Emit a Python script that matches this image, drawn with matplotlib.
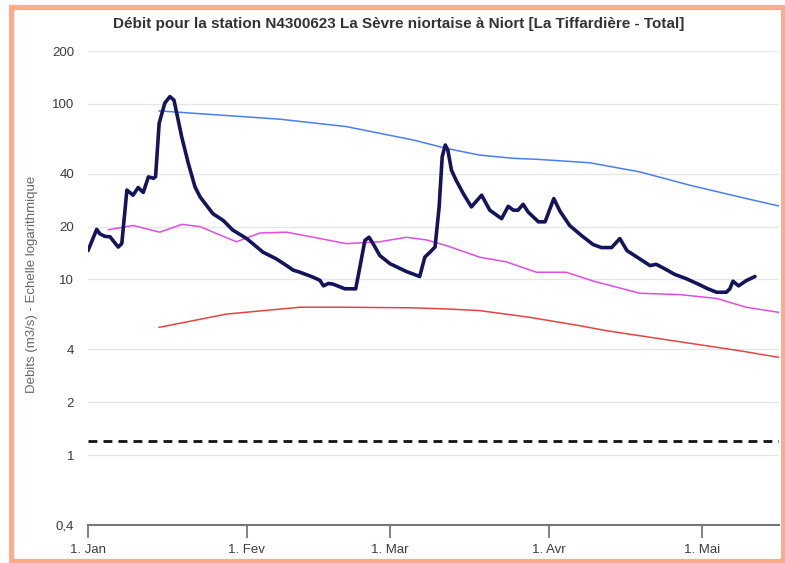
import matplotlib
matplotlib.use("Agg")
import matplotlib.pyplot as plt
import matplotlib.dates as mdates
from matplotlib.patches import Rectangle
from datetime import datetime
import numpy as np

plt.rcParams['font.family'] = ['Liberation Sans', 'DejaVu Sans']

# day offsets counted from 1 January
start = datetime(2023, 1, 1)

# observed daily flow (m3/s)
obs_days = [0, 1.7, 2.3, 3.3, 4.3, 5.9, 6.6,
            7.6, 8.8, 9.8, 10.8, 11.8, 12.8, 13.2,
            13.9, 15, 16, 16.8, 18.3, 19.6, 20.9, 21.9,
            24.4, 26.4, 28.3, 31, 34.2, 36.8, 38.8, 40.1, 41.4,
            44, 45.3, 46, 47, 47.9, 50.2, 52.3,
            53.1, 54.1, 54.9, 55.7, 57, 59, 62.2, 64.8,
            65.8, 66.8, 67.8, 68.6, 69.2, 69.8, 70.3, 71, 71.9, 73.3, 74.9,
            76.9, 78.5, 80.8, 82.1, 83.1, 84, 85, 86, 88, 89.3,
            91, 92.2, 94.1, 96.4, 98.7, 100.3, 102.3, 103.9, 105.3, 107.8,
            109.8, 111, 112.7, 114.6, 116.9, 119.5, 121.1, 122.8, 124.7, 125.4,
            126, 127.1, 128.6, 130.3]
obs_flow = [14.6, 19.3, 18.2, 17.6, 17.5, 15.3, 16.0,
            32.3, 30.2, 33.4, 31.3, 38.4, 37.7, 38.5,
            77.6, 101, 110, 105, 65, 45.8, 33.7, 29.5,
            23.7, 21.7, 19.1, 17.1, 14.3, 13.1, 12.0, 11.3, 11.0,
            10.3, 9.9, 9.2, 9.5, 9.4, 8.85, 8.85,
            11.7, 16.7, 17.4, 16.0, 13.7, 12.3, 11.1, 10.4,
            13.4, 14.3, 15.3, 25.9, 50, 58.3, 54.6, 42, 36.8, 30.9, 25.9,
            30.2, 24.8, 22.2, 26.1, 24.8, 24.8, 26.8, 24.2, 21.3, 21.3,
            28.9, 24.5, 20.3, 17.8, 15.8, 15.2, 15.2, 17.1, 14.6, 13.1,
            12.0, 12.2, 11.5, 10.7, 10.1, 9.33, 8.85, 8.46, 8.46, 8.85,
            9.78, 9.2, 9.85, 10.4]

# high reference curve
high_days = [13.9, 37.5, 50.5, 63.5, 70, 76.5, 83, 88, 98, 107.8, 117.6, 127.3, 135]
high_flow = [91.2, 81.8, 74.2, 62.3, 55.8, 51.1, 49.0, 48.3, 46.2, 41.0, 34.4, 29.5, 26.2]

# median reference curve
med_days = [4, 8.8, 14, 18.3, 21.9, 25.8, 29, 33.6, 38.8, 44, 50.5, 57, 62.2,
            66.1, 70, 76.5, 81.7, 87.6, 93.4, 98.7, 107.8, 115.6, 122.8, 128.6, 135]
med_flow = [19.2, 20.3, 18.6, 20.6, 20.0, 17.9, 16.4, 18.4, 18.6, 17.4, 16.0, 16.4, 17.4,
            16.8, 15.6, 13.4, 12.6, 11.0, 11.0, 9.8, 8.35, 8.2, 7.8, 6.95, 6.5]

# low reference curve
low_days = [13.9, 27, 41.4, 50.5, 63, 70, 76.5, 86.3, 96, 101.3, 114.3, 127.3, 135]
low_flow = [5.34, 6.35, 6.95, 6.95, 6.9, 6.8, 6.65, 6.09, 5.46, 5.11, 4.48, 3.93, 3.6]

threshold = 1.2

y_ticks = [0.4, 1, 2, 4, 10, 20, 40, 100, 200]
y_labels = ["0,4", "1", "2", "4", "10", "20", "40", "100", "200"]
month_starts = [datetime(2023, 1, 1), datetime(2023, 2, 1), datetime(2023, 3, 1),
                datetime(2023, 4, 1), datetime(2023, 5, 1)]
month_labels = ["1. Jan", "1. Fev", "1. Mar", "1. Avr", "1. Mai"]

title = "Débit pour la station N4300623 La Sèvre niortaise à Niort [La Tiffardière - Total]"
ylabel = "Debits (m3/s) - Echelle logarithmique"


def to_dates(days):
    return mdates.date2num(start) + np.array(days, dtype=float)


fig = plt.figure(figsize=(7.85, 5.63), dpi=100)
ax = fig.add_axes([88 / 785, 38 / 563, 691 / 785, 474 / 563])

ax.set_yscale('log')
ax.set_ylim(0.4, 200)
ax.set_xlim(to_dates([0])[0], to_dates([135])[0])

for v in y_ticks[1:]:
    ax.axhline(v, color='#e6e6e6', lw=1, zorder=0)

ax.plot(to_dates(high_days), high_flow, color='#4a7ef2', lw=1.1, zorder=2)
ax.plot(to_dates(med_days), med_flow, color='#e04ee0', lw=1.1, zorder=2)
ax.plot(to_dates(low_days), low_flow, color='#e34444', lw=1.1, zorder=2)
ax.axhline(threshold, color='#111111', lw=2, ls=(0, (3.2, 2.2)), zorder=2)
ax.plot(to_dates(obs_days), obs_flow, color='#14145a', lw=2.6,
        solid_joinstyle='round', solid_capstyle='round', zorder=3)

ax.set_yticks(y_ticks)
ax.set_yticklabels(y_labels)
ax.yaxis.set_minor_locator(matplotlib.ticker.NullLocator())
ax.set_xticks(mdates.date2num(month_starts))
ax.set_xticklabels(month_labels)

ax.tick_params(axis='y', length=0, pad=10, labelsize=9.5, labelcolor='#3c3c3c')
ax.tick_params(axis='x', direction='out', length=9, width=1.3, color='#777777',
               pad=4.5, labelsize=9.5, labelcolor='#3c3c3c')

for side in ['top', 'right', 'left']:
    ax.spines[side].set_visible(False)
ax.spines['bottom'].set_color('#777777')
ax.spines['bottom'].set_linewidth(1.5)

fig.text(0.508, 0.958, title, ha='center', va='center', fontsize=11,
         fontweight='bold', color='#333333')
fig.text(0.041, 0.495, ylabel, rotation=90, ha='center', va='center',
         fontsize=9.5, color='#666666')

# orange frame around the chart
fig.patches.append(Rectangle((10.5 / 785, 2.5 / 563), 772 / 785, 554 / 563,
                             transform=fig.transFigure, fill=False,
                             edgecolor='#ffab88', lw=3.8))

fig.savefig("out.png", dpi=100)
